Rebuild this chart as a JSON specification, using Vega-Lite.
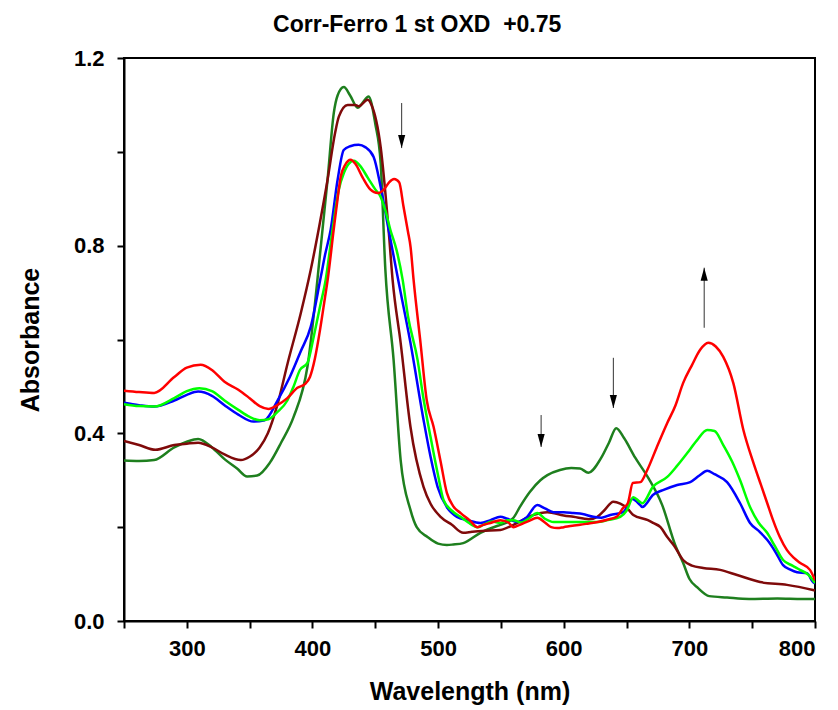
{
  "$schema": "https://vega.github.io/schema/vega-lite/v6.json",
  "width": 691,
  "height": 563,
  "autosize": "none",
  "padding": {"left": 124, "top": 58, "right": 23, "bottom": 89},
  "background": "white",
  "config": {
    "view": {"stroke": "black", "strokeWidth": 2},
    "font": "Liberation Sans",
    "axis": {"grid": false, "domainColor": "black", "domainWidth": 2, "tickColor": "black", "tickWidth": 2, "tickSize": 7, "labelFont": "Liberation Sans", "labelFontWeight": "bold", "labelFontSize": 22, "labelColor": "black", "titleFont": "Liberation Sans", "titleFontWeight": "bold", "titleFontSize": 25, "titleColor": "black"}
  },
  "title": {"text": "Corr-Ferro 1 st OXD \u00a0+0.75", "font": "Liberation Sans", "fontSize": 23, "fontWeight": "bold", "color": "black", "anchor": "middle", "frame": "bounds", "offset": 10},
  "datasets": {
    "spectra": [
      {"s":"dg","x":250,"y":0.342},{"s":"dg","x":262,"y":0.341},{"s":"dg","x":274,"y":0.343},{"s":"dg","x":290,"y":0.37},{"s":"dg","x":300,"y":0.382},{"s":"dg","x":309,"y":0.388},{"s":"dg","x":320,"y":0.37},{"s":"dg","x":330,"y":0.345},{"s":"dg","x":340,"y":0.325},{"s":"dg","x":348,"y":0.308},{"s":"dg","x":356,"y":0.31},{"s":"dg","x":366,"y":0.337},{"s":"dg","x":375,"y":0.38},{"s":"dg","x":385,"y":0.435},{"s":"dg","x":396,"y":0.542},{"s":"dg","x":406.6,"y":0.797},{"s":"dg","x":412,"y":0.94},{"s":"dg","x":417,"y":1.083},{"s":"dg","x":420,"y":1.12},{"s":"dg","x":425,"y":1.138},{"s":"dg","x":430,"y":1.12},{"s":"dg","x":436,"y":1.094},{"s":"dg","x":440,"y":1.105},{"s":"dg","x":444.7,"y":1.118},{"s":"dg","x":450,"y":1.06},{"s":"dg","x":454.3,"y":0.976},{"s":"dg","x":458,"y":0.75},{"s":"dg","x":464.6,"y":0.556},{"s":"dg","x":470.2,"y":0.343},{"s":"dg","x":478,"y":0.237},{"s":"dg","x":483,"y":0.2},{"s":"dg","x":491.6,"y":0.179},{"s":"dg","x":500,"y":0.165},{"s":"dg","x":507,"y":0.162},{"s":"dg","x":512,"y":0.163},{"s":"dg","x":520,"y":0.166},{"s":"dg","x":533.7,"y":0.188},{"s":"dg","x":549.6,"y":0.205},{"s":"dg","x":555,"y":0.21},{"s":"dg","x":560,"y":0.22},{"s":"dg","x":565.5,"y":0.245},{"s":"dg","x":573,"y":0.275},{"s":"dg","x":581.4,"y":0.3},{"s":"dg","x":587,"y":0.311},{"s":"dg","x":597,"y":0.322},{"s":"dg","x":606,"y":0.326},{"s":"dg","x":613,"y":0.325},{"s":"dg","x":619.6,"y":0.316},{"s":"dg","x":629.9,"y":0.348},{"s":"dg","x":636,"y":0.38},{"s":"dg","x":641.8,"y":0.411},{"s":"dg","x":648,"y":0.39},{"s":"dg","x":656.9,"y":0.348},{"s":"dg","x":667.3,"y":0.305},{"s":"dg","x":678.4,"y":0.247},{"s":"dg","x":688.7,"y":0.162},{"s":"dg","x":695,"y":0.124},{"s":"dg","x":700,"y":0.09},{"s":"dg","x":707,"y":0.07},{"s":"dg","x":715.8,"y":0.053},{"s":"dg","x":730,"y":0.05},{"s":"dg","x":747.5,"y":0.047},{"s":"dg","x":770,"y":0.048},{"s":"dg","x":790,"y":0.047},{"s":"dg","x":800,"y":0.047},

      {"s":"dr","x":250,"y":0.384},{"s":"dr","x":262,"y":0.375},{"s":"dr","x":275,"y":0.365},{"s":"dr","x":290,"y":0.375},{"s":"dr","x":300,"y":0.378},{"s":"dr","x":309,"y":0.38},{"s":"dr","x":320,"y":0.37},{"s":"dr","x":330,"y":0.355},{"s":"dr","x":343,"y":0.343},{"s":"dr","x":350,"y":0.35},{"s":"dr","x":358,"y":0.37},{"s":"dr","x":364.5,"y":0.4},{"s":"dr","x":372,"y":0.46},{"s":"dr","x":380.3,"y":0.55},{"s":"dr","x":390.7,"y":0.656},{"s":"dr","x":398.6,"y":0.748},{"s":"dr","x":406,"y":0.85},{"s":"dr","x":412,"y":0.94},{"s":"dr","x":418,"y":1.04},{"s":"dr","x":421,"y":1.075},{"s":"dr","x":428,"y":1.1},{"s":"dr","x":434,"y":1.1},{"s":"dr","x":437,"y":1.097},{"s":"dr","x":443.9,"y":1.111},{"s":"dr","x":447,"y":1.1},{"s":"dr","x":454.3,"y":1.01},{"s":"dr","x":460.6,"y":0.834},{"s":"dr","x":463.8,"y":0.727},{"s":"dr","x":470.2,"y":0.593},{"s":"dr","x":478,"y":0.414},{"s":"dr","x":488.4,"y":0.286},{"s":"dr","x":494,"y":0.25},{"s":"dr","x":502,"y":0.222},{"s":"dr","x":511,"y":0.205},{"s":"dr","x":520,"y":0.188},{"s":"dr","x":527,"y":0.19},{"s":"dr","x":535,"y":0.192},{"s":"dr","x":549.6,"y":0.194},{"s":"dr","x":560,"y":0.205},{"s":"dr","x":575,"y":0.225},{"s":"dr","x":587,"y":0.232},{"s":"dr","x":600,"y":0.225},{"s":"dr","x":607.7,"y":0.222},{"s":"dr","x":620,"y":0.217},{"s":"dr","x":626.7,"y":0.222},{"s":"dr","x":632,"y":0.235},{"s":"dr","x":639.5,"y":0.254},{"s":"dr","x":645,"y":0.25},{"s":"dr","x":650.6,"y":0.24},{"s":"dr","x":655.4,"y":0.226},{"s":"dr","x":667,"y":0.215},{"s":"dr","x":671.2,"y":0.209},{"s":"dr","x":677,"y":0.2},{"s":"dr","x":682.4,"y":0.179},{"s":"dr","x":688,"y":0.16},{"s":"dr","x":695,"y":0.13},{"s":"dr","x":702,"y":0.118},{"s":"dr","x":711,"y":0.113},{"s":"dr","x":724.5,"y":0.109},{"s":"dr","x":738,"y":0.098},{"s":"dr","x":756.3,"y":0.083},{"s":"dr","x":777.7,"y":0.077},{"s":"dr","x":798.4,"y":0.066},{"s":"dr","x":800,"y":0.065},

      {"s":"bl","x":250,"y":0.465},{"s":"bl","x":262,"y":0.46},{"s":"bl","x":274,"y":0.457},{"s":"bl","x":290,"y":0.47},{"s":"bl","x":300,"y":0.482},{"s":"bl","x":309,"y":0.489},{"s":"bl","x":320,"y":0.48},{"s":"bl","x":330,"y":0.46},{"s":"bl","x":341,"y":0.44},{"s":"bl","x":353,"y":0.425},{"s":"bl","x":362,"y":0.428},{"s":"bl","x":372.4,"y":0.471},{"s":"bl","x":382,"y":0.52},{"s":"bl","x":390.7,"y":0.575},{"s":"bl","x":398.6,"y":0.627},{"s":"bl","x":406.6,"y":0.733},{"s":"bl","x":410,"y":0.78},{"s":"bl","x":414.5,"y":0.834},{"s":"bl","x":420,"y":0.94},{"s":"bl","x":424.9,"y":1.004},{"s":"bl","x":430,"y":1.012},{"s":"bl","x":436.8,"y":1.015},{"s":"bl","x":442,"y":1.01},{"s":"bl","x":448.7,"y":0.989},{"s":"bl","x":454.3,"y":0.925},{"s":"bl","x":460.6,"y":0.834},{"s":"bl","x":467.8,"y":0.733},{"s":"bl","x":478,"y":0.593},{"s":"bl","x":488.4,"y":0.429},{"s":"bl","x":494,"y":0.35},{"s":"bl","x":499.6,"y":0.286},{"s":"bl","x":506.9,"y":0.243},{"s":"bl","x":515,"y":0.222},{"s":"bl","x":523.4,"y":0.215},{"s":"bl","x":533.7,"y":0.209},{"s":"bl","x":541.7,"y":0.215},{"s":"bl","x":549.6,"y":0.222},{"s":"bl","x":555,"y":0.218},{"s":"bl","x":563.2,"y":0.211},{"s":"bl","x":570,"y":0.22},{"s":"bl","x":579,"y":0.247},{"s":"bl","x":585,"y":0.24},{"s":"bl","x":591.8,"y":0.232},{"s":"bl","x":600,"y":0.232},{"s":"bl","x":607.7,"y":0.23},{"s":"bl","x":615,"y":0.228},{"s":"bl","x":623.6,"y":0.222},{"s":"bl","x":630,"y":0.22},{"s":"bl","x":637,"y":0.226},{"s":"bl","x":647.4,"y":0.232},{"s":"bl","x":654.6,"y":0.26},{"s":"bl","x":660.9,"y":0.247},{"s":"bl","x":662.5,"y":0.243},{"s":"bl","x":671.2,"y":0.269},{"s":"bl","x":680,"y":0.28},{"s":"bl","x":690.3,"y":0.29},{"s":"bl","x":700.7,"y":0.296},{"s":"bl","x":708,"y":0.31},{"s":"bl","x":714.2,"y":0.32},{"s":"bl","x":720,"y":0.313},{"s":"bl","x":730,"y":0.296},{"s":"bl","x":740.4,"y":0.251},{"s":"bl","x":748.3,"y":0.209},{"s":"bl","x":756,"y":0.19},{"s":"bl","x":761.9,"y":0.173},{"s":"bl","x":769,"y":0.145},{"s":"bl","x":774.6,"y":0.119},{"s":"bl","x":780,"y":0.11},{"s":"bl","x":785.7,"y":0.104},{"s":"bl","x":793.6,"y":0.102},{"s":"bl","x":798.4,"y":0.083},{"s":"bl","x":800,"y":0.08},

      {"s":"lg","x":250,"y":0.462},{"s":"lg","x":262,"y":0.458},{"s":"lg","x":274,"y":0.457},{"s":"lg","x":290,"y":0.475},{"s":"lg","x":300,"y":0.49},{"s":"lg","x":310,"y":0.496},{"s":"lg","x":320,"y":0.49},{"s":"lg","x":330,"y":0.47},{"s":"lg","x":341,"y":0.45},{"s":"lg","x":350,"y":0.435},{"s":"lg","x":358,"y":0.428},{"s":"lg","x":365,"y":0.43},{"s":"lg","x":372,"y":0.445},{"s":"lg","x":380,"y":0.47},{"s":"lg","x":385,"y":0.5},{"s":"lg","x":390,"y":0.535},{"s":"lg","x":396,"y":0.55},{"s":"lg","x":401,"y":0.606},{"s":"lg","x":406,"y":0.67},{"s":"lg","x":410.5,"y":0.727},{"s":"lg","x":416,"y":0.834},{"s":"lg","x":421,"y":0.92},{"s":"lg","x":425,"y":0.955},{"s":"lg","x":429,"y":0.975},{"s":"lg","x":433,"y":0.981},{"s":"lg","x":438,"y":0.97},{"s":"lg","x":444,"y":0.945},{"s":"lg","x":450,"y":0.92},{"s":"lg","x":454.3,"y":0.904},{"s":"lg","x":458,"y":0.875},{"s":"lg","x":462,"y":0.834},{"s":"lg","x":467,"y":0.79},{"s":"lg","x":471.8,"y":0.727},{"s":"lg","x":476,"y":0.65},{"s":"lg","x":483.7,"y":0.556},{"s":"lg","x":488,"y":0.48},{"s":"lg","x":494,"y":0.392},{"s":"lg","x":500,"y":0.31},{"s":"lg","x":504.3,"y":0.258},{"s":"lg","x":511,"y":0.235},{"s":"lg","x":517.8,"y":0.222},{"s":"lg","x":524,"y":0.21},{"s":"lg","x":531.4,"y":0.2},{"s":"lg","x":536,"y":0.205},{"s":"lg","x":543,"y":0.212},{"s":"lg","x":549.6,"y":0.209},{"s":"lg","x":555,"y":0.215},{"s":"lg","x":560,"y":0.215},{"s":"lg","x":566,"y":0.21},{"s":"lg","x":572,"y":0.218},{"s":"lg","x":579,"y":0.23},{"s":"lg","x":585,"y":0.218},{"s":"lg","x":592,"y":0.211},{"s":"lg","x":600,"y":0.211},{"s":"lg","x":610,"y":0.211},{"s":"lg","x":620,"y":0.211},{"s":"lg","x":627,"y":0.211},{"s":"lg","x":635,"y":0.215},{"s":"lg","x":645,"y":0.222},{"s":"lg","x":650,"y":0.235},{"s":"lg","x":655.4,"y":0.264},{"s":"lg","x":660,"y":0.255},{"s":"lg","x":662.5,"y":0.251},{"s":"lg","x":671,"y":0.286},{"s":"lg","x":682.4,"y":0.307},{"s":"lg","x":690,"y":0.33},{"s":"lg","x":698.3,"y":0.358},{"s":"lg","x":706,"y":0.385},{"s":"lg","x":714.2,"y":0.407},{"s":"lg","x":720,"y":0.405},{"s":"lg","x":727,"y":0.375},{"s":"lg","x":734,"y":0.34},{"s":"lg","x":740.4,"y":0.3},{"s":"lg","x":748.3,"y":0.243},{"s":"lg","x":755,"y":0.21},{"s":"lg","x":761.9,"y":0.188},{"s":"lg","x":768,"y":0.16},{"s":"lg","x":774.6,"y":0.13},{"s":"lg","x":782,"y":0.118},{"s":"lg","x":788,"y":0.109},{"s":"lg","x":795,"y":0.098},{"s":"lg","x":800,"y":0.081},

      {"s":"rd","x":250,"y":0.491},{"s":"rd","x":262,"y":0.488},{"s":"rd","x":274,"y":0.486},{"s":"rd","x":290,"y":0.52},{"s":"rd","x":300,"y":0.54},{"s":"rd","x":311,"y":0.546},{"s":"rd","x":320,"y":0.535},{"s":"rd","x":330,"y":0.51},{"s":"rd","x":341,"y":0.493},{"s":"rd","x":350,"y":0.475},{"s":"rd","x":358,"y":0.458},{"s":"rd","x":365,"y":0.452},{"s":"rd","x":372,"y":0.46},{"s":"rd","x":380,"y":0.475},{"s":"rd","x":388,"y":0.497},{"s":"rd","x":394,"y":0.505},{"s":"rd","x":398,"y":0.52},{"s":"rd","x":402,"y":0.56},{"s":"rd","x":406,"y":0.62},{"s":"rd","x":410,"y":0.69},{"s":"rd","x":412.1,"y":0.727},{"s":"rd","x":416.9,"y":0.834},{"s":"rd","x":420,"y":0.9},{"s":"rd","x":422.5,"y":0.947},{"s":"rd","x":426,"y":0.972},{"s":"rd","x":430.4,"y":0.983},{"s":"rd","x":434,"y":0.975},{"s":"rd","x":440,"y":0.945},{"s":"rd","x":446,"y":0.92},{"s":"rd","x":452,"y":0.912},{"s":"rd","x":457,"y":0.92},{"s":"rd","x":461,"y":0.935},{"s":"rd","x":465,"y":0.942},{"s":"rd","x":469,"y":0.935},{"s":"rd","x":472.5,"y":0.883},{"s":"rd","x":476,"y":0.83},{"s":"rd","x":478.1,"y":0.797},{"s":"rd","x":480.5,"y":0.727},{"s":"rd","x":486,"y":0.593},{"s":"rd","x":491,"y":0.47},{"s":"rd","x":496.4,"y":0.414},{"s":"rd","x":502,"y":0.34},{"s":"rd","x":507,"y":0.273},{"s":"rd","x":512,"y":0.245},{"s":"rd","x":518,"y":0.23},{"s":"rd","x":525,"y":0.215},{"s":"rd","x":531.4,"y":0.2},{"s":"rd","x":536,"y":0.205},{"s":"rd","x":541.7,"y":0.209},{"s":"rd","x":549.6,"y":0.215},{"s":"rd","x":556,"y":0.21},{"s":"rd","x":560,"y":0.2},{"s":"rd","x":565,"y":0.205},{"s":"rd","x":572,"y":0.213},{"s":"rd","x":579,"y":0.22},{"s":"rd","x":585,"y":0.21},{"s":"rd","x":590,"y":0.2},{"s":"rd","x":595,"y":0.198},{"s":"rd","x":600,"y":0.2},{"s":"rd","x":607,"y":0.203},{"s":"rd","x":613,"y":0.205},{"s":"rd","x":620,"y":0.208},{"s":"rd","x":627,"y":0.211},{"s":"rd","x":636,"y":0.217},{"s":"rd","x":642,"y":0.222},{"s":"rd","x":647,"y":0.24},{"s":"rd","x":651,"y":0.251},{"s":"rd","x":655,"y":0.294},{"s":"rd","x":661,"y":0.296},{"s":"rd","x":666.5,"y":0.322},{"s":"rd","x":674,"y":0.37},{"s":"rd","x":682.4,"y":0.422},{"s":"rd","x":689,"y":0.46},{"s":"rd","x":695,"y":0.507},{"s":"rd","x":702,"y":0.545},{"s":"rd","x":708.6,"y":0.578},{"s":"rd","x":715,"y":0.593},{"s":"rd","x":721,"y":0.585},{"s":"rd","x":727,"y":0.563},{"s":"rd","x":735,"y":0.507},{"s":"rd","x":743,"y":0.407},{"s":"rd","x":751,"y":0.337},{"s":"rd","x":757,"y":0.29},{"s":"rd","x":762,"y":0.251},{"s":"rd","x":766.6,"y":0.215},{"s":"rd","x":772,"y":0.179},{"s":"rd","x":777.7,"y":0.151},{"s":"rd","x":783,"y":0.135},{"s":"rd","x":788,"y":0.124},{"s":"rd","x":796,"y":0.109},{"s":"rd","x":800,"y":0.087}
    ],
    "arrows": [
      {"x": 471, "tail": 1.104, "head": 1.008, "dir": "down"},
      {"x": 582, "tail": 0.439, "head": 0.371, "dir": "down"},
      {"x": 639.5, "tail": 0.561, "head": 0.454, "dir": "down"},
      {"x": 711.8, "tail": 0.625, "head": 0.753, "dir": "up"}
    ]
  },
  "layer": [
    {
      "data": {"name": "spectra"},
      "mark": {"type": "line", "strokeWidth": 2.5, "clip": true, "interpolate": "monotone"},
      "encoding": {
        "x": {"field": "x", "type": "quantitative", "scale": {"domain": [250, 800], "nice": false, "zero": false},
              "axis": {"title": "Wavelength (nm)", "values": [250,300,350,400,450,500,550,600,650,700,750,800], "labelExpr": "datum.value % 100 == 0 ? datum.label : ''", "labelPadding": 10, "titlePadding": 20}},
        "y": {"field": "y", "type": "quantitative", "scale": {"domain": [0, 1.2], "nice": false},
              "axis": {"title": "Absorbance", "values": [0,0.2,0.4,0.6,0.8,1.0,1.2], "format": ".1f", "labelExpr": "round(datum.value*10) % 4 == 0 ? datum.label : ''", "labelPadding": 13, "titlePadding": 30}},
        "color": {"field": "s", "type": "nominal", "legend": null,
                  "scale": {"domain": ["dg","dr","bl","lg","rd"], "range": ["#1E7F1E","#7F0A0A","#0000FF","#00FF00","#FF0000"]}},
        "order": {"field": "x", "type": "quantitative"}
      }
    },
    {
      "data": {"name": "arrows"},
      "mark": {"type": "rule", "color": "#333333", "strokeWidth": 1},
      "encoding": {
        "x": {"field": "x", "type": "quantitative"},
        "y": {"field": "tail", "type": "quantitative"},
        "y2": {"field": "head"}
      }
    },
    {
      "data": {"name": "arrows"},
      "mark": {"type": "point", "filled": true, "color": "black", "opacity": 1, "size": 169},
      "encoding": {
        "x": {"field": "x", "type": "quantitative"},
        "y": {"field": "head", "type": "quantitative"},
        "shape": {"field": "dir", "type": "nominal", "legend": null,
                  "scale": {"domain": ["down","up"], "range": ["M-0.55,-2L0.55,-2L0,0Z","M-0.55,2L0.55,2L0,0Z"]}}
      }
    }
  ]
}
